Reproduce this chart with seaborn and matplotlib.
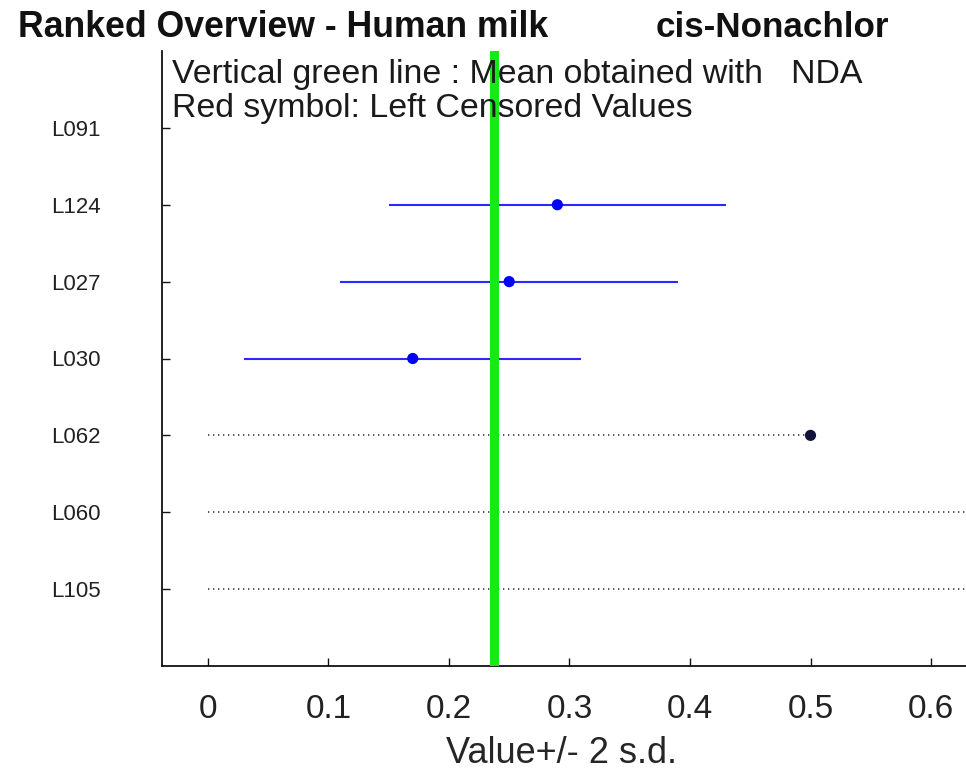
import numpy as np
import pandas as pd
import matplotlib
matplotlib.use("Agg")
import matplotlib.pyplot as plt
import seaborn as sns

labs = ['L091', 'L124', 'L027', 'L030', 'L062', 'L060', 'L105']
values = [np.nan, 0.29, 0.25, 0.17, 0.50, np.nan, np.nan]
two_sd = [np.nan, 0.14, 0.14, 0.14, np.nan, np.nan, np.nan]
dotted_end = [np.nan, np.nan, np.nan, np.nan, 0.50, 0.70, 0.70]
kind = ['none', 'sd', 'sd', 'sd', 'nosd', 'none', 'none']
mean_nda = 0.2375
xticks = [0, 0.1, 0.2, 0.3, 0.4, 0.5, 0.6]
xticklabels = ['0', '0.1', '0.2', '0.3', '0.4', '0.5', '0.6']

sns.set_theme(style="white")
plt.rcParams['font.family'] = ['Liberation Sans', 'DejaVu Sans']

df = pd.DataFrame({'lab': labs, 'value': values, 'sd2': two_sd,
                   'dend': dotted_end, 'kind': kind})
df['pos'] = np.arange(1, len(labs) + 1)

fig = plt.figure(figsize=(9.66, 7.73), dpi=100)
ax = fig.add_axes([162/966, 1 - 666/773, 1 - 162/966, (666 - 51)/773])

# dotted lines (no s.d.)
dd = df.dropna(subset=['dend'])
ax.hlines(dd['pos'], 0, dd['dend'], colors='#3a3a3a', linestyles=(0, (0.8, 2.2)), lw=1.2, zorder=2)

# error bars
es = df[df['kind'] == 'sd']
ax.hlines(es['pos'], es['value'] - es['sd2'], es['value'] + es['sd2'], colors='#2a2aff', lw=1.5, zorder=3)

ax.axvline(mean_nda, color='#14ea14', lw=6.5, zorder=4)

sns.scatterplot(data=es, x='value', y='pos', color='#0000ff', s=65, edgecolor='none', ax=ax, zorder=5)
ns = df[df['kind'] == 'nosd'].dropna(subset=['value'])
sns.scatterplot(data=ns, x='value', y='pos', color='#12123a', s=65, edgecolor='none', ax=ax, zorder=5)

ax.set_xlim(-0.038, 0.629)
ax.set_ylim(8, 0)
ax.set_yticks(df['pos'])
ax.set_yticklabels(labs, fontsize=16)
ax.set_xticks(xticks)
ax.set_xticklabels(xticklabels, fontsize=24)
ax.set_xlabel('Value+/- 2 s.d.', fontsize=26, va='baseline')
ax.xaxis.set_label_coords((562 - 162) / 804, -(763 - 666) / 615)
ax.set_ylabel('')

for s in ['top', 'right']:
    ax.spines[s].set_visible(False)
for s in ['left', 'bottom']:
    ax.spines[s].set_color('#111111')
    ax.spines[s].set_linewidth(1.3)
ax.tick_params(axis='x', direction='in', length=6, width=1, colors='#111111', pad=20, labelcolor='#222222', bottom=True)
ax.tick_params(axis='y', direction='in', length=6, width=1, colors='#111111', pad=44, labelcolor='#222222', left=True)

ax.text(172/966, 1 - 83/773, 'Vertical green line : Mean obtained with   NDA', transform=fig.transFigure,
        fontsize=24.4, va='baseline', ha='left', color='#1a1a1a', zorder=6)
ax.text(172/966, 1 - 117/773, 'Red symbol: Left Censored Values', transform=fig.transFigure,
        fontsize=24.4, va='baseline', ha='left', color='#1a1a1a', zorder=6)

fig.text(18/966, 1 - 37/773, 'Ranked Overview - Human milk', fontsize=25.7, fontweight='bold',
         va='baseline', ha='left', color='#111111')
fig.text(656/966, 1 - 37/773, 'cis-Nonachlor', fontsize=25.2, fontweight='bold',
         va='baseline', ha='left', color='#111111')

fig.savefig('out.png', dpi=100)
